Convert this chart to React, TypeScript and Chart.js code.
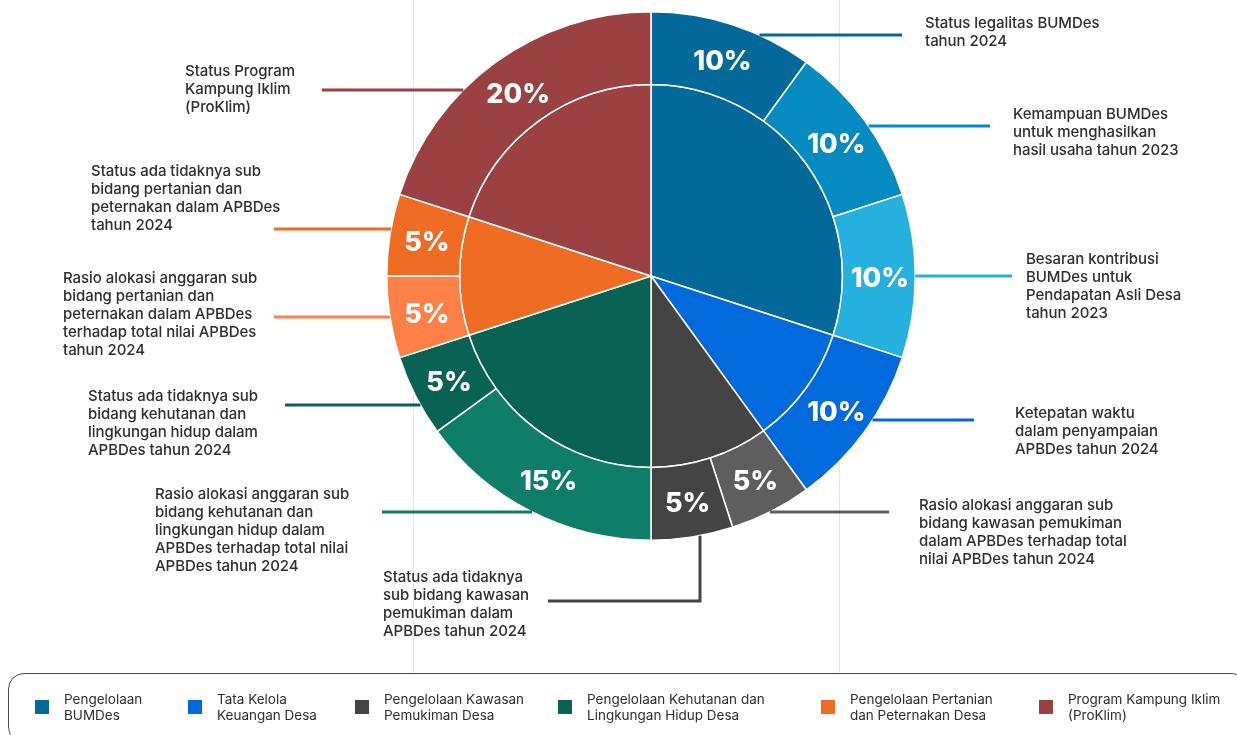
import React, { useEffect, useRef } from "react";
import { Chart, registerables } from "chart.js";
Chart.register(...registerables);

// ---------- DATA ----------
const outerLabels = [
  "Status legalitas BUMDes tahun 2024",
  "Kemampuan BUMDes untuk menghasilkan hasil usaha tahun 2023",
  "Besaran kontribusi BUMDes untuk Pendapatan Asli Desa tahun 2023",
  "Ketepatan waktu dalam penyampaian APBDes tahun 2024",
  "Rasio alokasi anggaran sub bidang kawasan pemukiman dalam APBDes terhadap total nilai APBDes tahun 2024",
  "Status ada tidaknya sub bidang kawasan pemukiman dalam APBDes tahun 2024",
  "Rasio alokasi anggaran sub bidang kehutanan dan lingkungan hidup dalam APBDes terhadap total nilai APBDes tahun 2024",
  "Status ada tidaknya sub bidang kehutanan dan lingkungan hidup dalam APBDes tahun 2024",
  "Rasio alokasi anggaran sub bidang pertanian dan peternakan dalam APBDes terhadap total nilai APBDes tahun 2024",
  "Status ada tidaknya sub bidang pertanian dan peternakan dalam APBDes tahun 2024",
  "Status Program Kampung Iklim (ProKlim)",
];
const outerValues = [10, 10, 10, 10, 5, 5, 15, 5, 5, 5, 20];
const outerColors = [
  "#03699A", "#058BC0", "#25B0DE", "#0069DB", "#5E5E5E", "#444444",
  "#0E7D69", "#096354", "#FF8047", "#F06C23", "#9B4141",
];

const innerLabels = [
  "Pengelolaan BUMDes",
  "Tata Kelola Keuangan Desa",
  "Pengelolaan Kawasan Pemukiman Desa",
  "Pengelolaan Kehutanan dan Lingkungan Hidup Desa",
  "Pengelolaan Pertanian dan Peternakan Desa",
  "Program Kampung Iklim (ProKlim)",
];
const innerValues = [30, 10, 10, 20, 10, 20];
const innerColors = ["#03699A", "#0069DB", "#444444", "#096354", "#F06C23", "#9B4141"];

const legendLines = [
  ["Pengelolaan", "BUMDes"],
  ["Tata Kelola", "Keuangan Desa"],
  ["Pengelolaan Kawasan", "Pemukiman Desa"],
  ["Pengelolaan Kehutanan dan", "Lingkungan Hidup Desa"],
  ["Pengelolaan Pertanian", "dan Peternakan Desa"],
  ["Program Kampung Iklim", "(ProKlim)"],
];

const annotationLines = [
  ["Status legalitas BUMDes", "tahun 2024"],
  ["Kemampuan BUMDes", "untuk menghasilkan", "hasil usaha tahun 2023"],
  ["Besaran kontribusi", "BUMDes untuk", "Pendapatan Asli Desa", "tahun 2023"],
  ["Ketepatan waktu", "dalam penyampaian", "APBDes tahun 2024"],
  ["Rasio alokasi anggaran sub", "bidang kawasan pemukiman", "dalam APBDes terhadap total", "nilai APBDes tahun 2024"],
  ["Status ada tidaknya", "sub bidang kawasan", "pemukiman dalam", "APBDes tahun 2024"],
  ["Rasio alokasi anggaran sub", "bidang kehutanan dan", "lingkungan hidup dalam", "APBDes terhadap total nilai", "APBDes tahun 2024"],
  ["Status ada tidaknya sub", "bidang kehutanan dan", "lingkungan hidup dalam", "APBDes tahun 2024"],
  ["Rasio alokasi anggaran sub", "bidang pertanian dan", "peternakan dalam APBDes", "terhadap total nilai APBDes", "tahun 2024"],
  ["Status ada tidaknya sub", "bidang pertanian dan", "peternakan dalam APBDes", "tahun 2024"],
  ["Status Program", "Kampung Iklim", "(ProKlim)"],
];

// ---------- LAYOUT (positions only) ----------
const annotationPos = [
  { tx: 925, ty: 14, mode: "right", ly: 35, end: 902 },
  { tx: 1013, ty: 105, mode: "right", ly: 126, end: 990 },
  { tx: 1026, ty: 250, mode: "right", ly: 276, end: 1012 },
  { tx: 1015, ty: 404, mode: "right", ly: 420, end: 974 },
  { tx: 919, ty: 496, mode: "right", ly: 512, end: 889 },
  { tx: 383, ty: 568, mode: "down", lx: 700, ly: 601, end: 548 },
  { tx: 155, ty: 485, mode: "left", ly: 512, end: 382 },
  { tx: 88, ty: 387, mode: "left", ly: 405, end: 285 },
  { tx: 63, ty: 269, mode: "left", ly: 317, end: 274 },
  { tx: 91, ty: 162, mode: "left", ly: 229, end: 274 },
  { tx: 185, ty: 62, mode: "left", ly: 90, end: 322 },
];
const legendPos = [
  { sx: 35, tx: 64 },
  { sx: 188, tx: 217 },
  { sx: 355, tx: 384 },
  { sx: 558, tx: 587 },
  { sx: 821, tx: 850 },
  { sx: 1039, tx: 1068 },
];
const gridXs = [413.5, 839.5];

const W = 1237;
const H = 735;
const FONT = "Inter, 'Noto Sans', sans-serif";

const decorPlugin = {
  id: "decor",
  beforeDraw(chart: any) {
    const ctx = chart.ctx;
    ctx.save();
    ctx.strokeStyle = "#e7e7e7";
    ctx.lineWidth = 1;
    gridXs.forEach((x) => {
      ctx.beginPath();
      ctx.moveTo(x, 0);
      ctx.lineTo(x, 673);
      ctx.stroke();
    });
    ctx.restore();
  },
  afterDatasetsDraw(chart: any) {
    const ctx = chart.ctx;
    const meta = chart.getDatasetMeta(0);
    ctx.save();
    meta.data.forEach((arc: any, i: number) => {
      const p = annotationPos[i];
      const { x: cx, y: cy, outerRadius: R } = arc.getProps(["x", "y", "outerRadius"], true);
      ctx.strokeStyle = outerColors[i];
      ctx.lineWidth = 3;
      ctx.beginPath();
      if (p.mode === "down") {
        const dx = p.lx - cx;
        const ys = cy + Math.sqrt(Math.max(R * R - dx * dx, 0));
        ctx.moveTo(p.lx, ys);
        ctx.lineTo(p.lx, p.ly);
        ctx.lineTo(p.end, p.ly);
      } else {
        const dy = p.ly - cy;
        const dx = Math.sqrt(Math.max(R * R - dy * dy, 0));
        const xs = p.mode === "right" ? cx + dx : cx - dx;
        ctx.moveTo(xs, p.ly);
        ctx.lineTo(p.end, p.ly);
      }
      ctx.stroke();
    });
    ctx.fillStyle = "#ffffff";
    ctx.font = `800 27px ${FONT}`;
    ctx.textAlign = "center";
    ctx.textBaseline = "middle";
    meta.data.forEach((arc: any, i: number) => {
      const c = arc.getCenterPoint(true);
      ctx.fillText(`${outerValues[i]}%`, c.x + 1, c.y + 3);
    });
    ctx.restore();
  },
};

export default function App() {
  const ref = useRef<HTMLCanvasElement | null>(null);
  useEffect(() => {
    if (!ref.current) return;
    const chart = new Chart(ref.current, {
      type: "doughnut",
      data: {
        labels: outerLabels,
        datasets: [
          {
            label: "Indikator",
            data: outerValues,
            backgroundColor: outerColors,
            borderColor: "#ffffff",
            borderWidth: 1.5,
            weight: 73,
          } as any,
          {
            label: "Kategori",
            data: innerValues,
            backgroundColor: innerColors,
            borderColor: "#ffffff",
            borderWidth: 1.5,
            weight: 192,
          } as any,
        ],
      },
      options: {
        responsive: false,
        animation: false,
        cutout: 0,
        layout: { padding: { left: 386, right: 321, top: 11, bottom: 194 } },
        plugins: {
          legend: { display: false },
          tooltip: { enabled: false },
        },
        events: [],
      } as any,
      plugins: [decorPlugin],
    });
    return () => chart.destroy();
  }, []);

  return (
    <div style={{ position: "fixed", left: 0, top: 0, width: W, height: H, overflow: "hidden", background: "#fff", fontFamily: FONT }}>
      <canvas ref={ref} width={W} height={H} style={{ position: "absolute", left: 0, top: 0, width: W, height: H }} />
      {annotationLines.map((lines, i) => (
        <div
          key={i}
          style={{
            position: "absolute",
            left: annotationPos[i].tx,
            top: annotationPos[i].ty,
            fontSize: 15,
            lineHeight: "18px",
            fontWeight: 500,
            color: "#2e2e2e",
            whiteSpace: "nowrap",
            letterSpacing: "-0.05px",
          }}
        >
          {lines.map((l, j) => (
            <div key={j}>{l}</div>
          ))}
        </div>
      ))}
      <div
        style={{
          position: "absolute",
          left: 8,
          top: 673,
          width: 1240,
          height: 70,
          border: "1px solid #4a4a4a",
          borderRadius: 16,
          boxSizing: "border-box",
        }}
      />
      {legendLines.map((lines, i) => (
        <React.Fragment key={i}>
          <div
            style={{
              position: "absolute",
              left: legendPos[i].sx,
              top: 700,
              width: 14,
              height: 14,
              background: innerColors[i],
            }}
          />
          <div
            style={{
              position: "absolute",
              left: legendPos[i].tx,
              top: 691,
              fontSize: 13.5,
              lineHeight: "16px",
              color: "#2e2e2e",
              whiteSpace: "nowrap",
            }}
          >
            {lines.map((l, j) => (
              <div key={j}>{l}</div>
            ))}
          </div>
        </React.Fragment>
      ))}
    </div>
  );
}
